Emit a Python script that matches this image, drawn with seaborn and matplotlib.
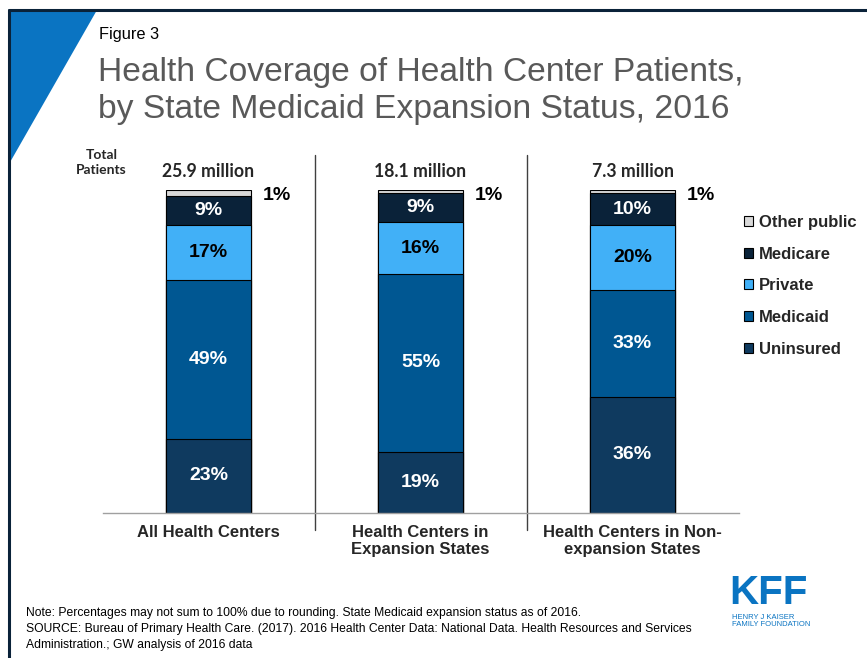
import pandas as pd
import matplotlib.pyplot as plt
import seaborn as sns
from matplotlib.patches import Patch, Polygon
from matplotlib.lines import Line2D

# data
groups = ["All Health Centers", "Health Centers in\nExpansion States", "Health Centers in Non-\nexpansion States"]
totals = ["25.9 million", "18.1 million", "7.3 million"]
uninsured = [23, 19, 36]
medicaid = [49, 55, 33]
private = [17, 16, 20]
medicare = [9, 9, 10]
other_public = [1, 1, 1]

layers = ["Uninsured", "Medicaid", "Private", "Medicare", "Other public"]
colors = {"Uninsured": "#0f3a5f", "Medicaid": "#005792", "Private": "#41b0f7",
          "Medicare": "#0a2239", "Other public": "#d9d9d9"}
text_col = {"Uninsured": "white", "Medicaid": "white", "Private": "black", "Medicare": "white"}

df = pd.DataFrame({"group": groups, "Uninsured": uninsured, "Medicaid": medicaid,
                   "Private": private, "Medicare": medicare, "Other public": other_public})
# cumulative tops, stacked bars drawn top layer first
cum = df[layers].cumsum(axis=1)
cum.iloc[:, -1] = 100  # rounding: fill to the top

sns.set_style("white")
plt.rcParams["font.family"] = ["Liberation Sans", "DejaVu Sans"]

fig = plt.figure(figsize=(8.67, 6.58), dpi=100)
ax = fig.add_axes([102.5 / 867, 0.2204, 636 / 867, 0.491])

for layer in reversed(layers):
    sns.barplot(x=df["group"], y=cum[layer], color=colors[layer], width=0.4,
                edgecolor="black", linewidth=0.8, ax=ax, saturation=1)

for i in range(len(groups)):
    bottom = 0
    for layer in layers[:-1]:
        v = df.loc[i, layer]
        ax.text(i, bottom + v / 2, f"{v}%", ha="center", va="center",
                fontsize=14, fontweight="bold", color=text_col[layer])
        bottom += v
    ax.text(i + 0.257, 98.3, f"{df.loc[i, 'Other public']}%", ha="left", va="center",
            fontsize=14, fontweight="bold", color="black")
    ax.text(i, 105.7, totals[i], ha="center", va="center", fontsize=12.7,
            fontweight="bold", family=["Lato", "DejaVu Sans"], clip_on=False)

ax.text(-0.505, 108.5, "Total\nPatients", ha="center", va="center", fontsize=10,
        fontweight="bold", family=["Lato", "DejaVu Sans"], linespacing=1.3)

for xv in [0.5, 1.5]:
    ax.plot([xv, xv], [-5.3, 110.8], color="#404040", lw=1, clip_on=False)

ax.set_xlim(-0.5, 2.5)
ax.set_ylim(0, 100)
ax.set_yticks([])
ax.set_xlabel("")
ax.set_ylabel("")
ax.tick_params(axis="x", length=0, pad=9)
ax.set_xticks(range(3))
ax.set_xticklabels(groups, fontsize=12, fontweight="bold", linespacing=1.1, va="top")
for s in ["top", "right", "left"]:
    ax.spines[s].set_visible(False)
ax.spines["bottom"].set_color("#a0a0a0")
ax.spines["bottom"].set_linewidth(1)

handles = [Patch(facecolor=colors[l], edgecolor="black", linewidth=0.8) for l in reversed(layers)]
leg = fig.legend(handles, list(reversed(layers)), loc="upper left",
                 bbox_to_anchor=(729 / 867, 1 - 200 / 658), frameon=False,
                 handlelength=0.55, handleheight=0.55, handletextpad=0.35,
                 labelspacing=1.0, prop={"weight": "bold", "size": 12})

# frame and decoration
fig.add_artist(Line2D([8.5 / 867, 1], [1 - 9.5 / 658] * 2, color="#0a2239", lw=2.2))
fig.add_artist(Line2D([8.5 / 867] * 2, [0, 1 - 9.5 / 658], color="#0a2239", lw=2.2))
fig.add_artist(Polygon([[9 / 867, 1 - 10 / 658], [97 / 867, 1 - 10 / 658], [9 / 867, 1 - 164 / 658]],
                       closed=True, facecolor="#0a74c2", edgecolor="none"))

fig.text(99 / 867, 1 - 35 / 658, "Figure 3", fontsize=11.8, va="center", color="black")
fig.text(98 / 867, 1 - 91 / 658, "Health Coverage of Health Center Patients,\nby State Medicaid Expansion Status, 2016",
         fontsize=24.2, va="center", color="#595959", linespacing=1.22)

fig.text(26 / 867, 1 - 629 / 658,
         "Note: Percentages may not sum to 100% due to rounding. State Medicaid expansion status as of 2016.\n"
         "SOURCE: Bureau of Primary Health Care. (2017). 2016 Health Center Data: National Data. Health Resources and Services\n"
         "Administration.; GW analysis of 2016 data",
         fontsize=8.7, va="center", color="black", linespacing=1.4)

fig.text(768 / 867, 1 - 593 / 658, "KFF", fontsize=29, fontweight="bold", color="#0a74c2",
         ha="center", va="center")
fig.text(732 / 867, 1 - 621 / 658, "HENRY J KAISER\nFAMILY FOUNDATION", fontsize=5.5, color="#0a74c2",
         ha="left", va="center", linespacing=1.1)

fig.savefig("out.png", dpi=100)
